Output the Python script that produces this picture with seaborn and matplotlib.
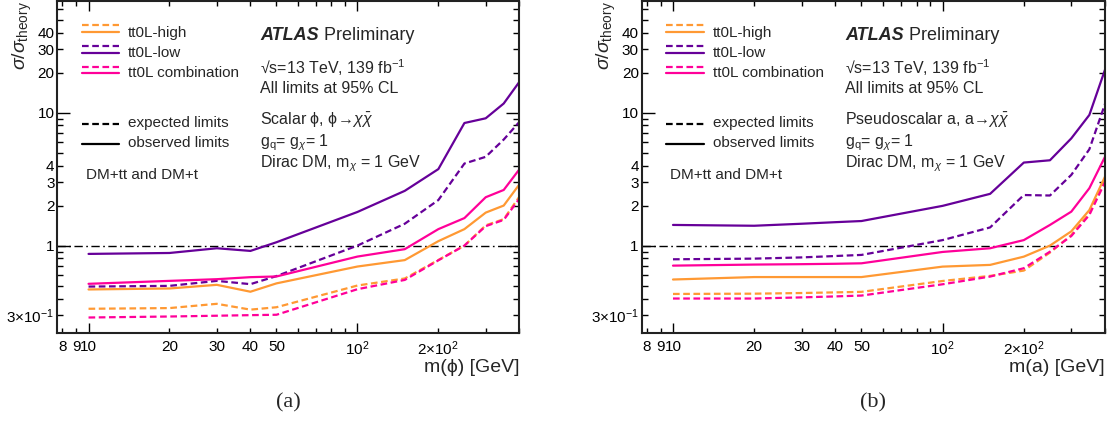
import matplotlib
matplotlib.use("Agg")
import matplotlib.pyplot as plt
from matplotlib.ticker import FixedLocator, FixedFormatter
import seaborn as sns
import pandas as pd

# ---------------- data ----------------
mass = [10, 20, 30, 40, 50, 100, 150, 200, 250, 300, 350, 400]

# (a) scalar phi
high_obs_a = [0.468, 0.476, 0.507, 0.450, 0.520, 0.696, 0.778, 1.08, 1.33, 1.77, 2.00, 2.88]
high_exp_a = [0.335, 0.339, 0.365, 0.330, 0.344, 0.501, 0.566, 0.78, 1.00, 1.42, 1.58, 2.33]
low_obs_a = [0.866, 0.880, 0.955, 0.912, 1.06, 1.79, 2.58, 3.76, 8.35, 9.06, 11.7, 17.0]
low_exp_a = [0.492, 0.498, 0.543, 0.513, 0.590, 1.00, 1.46, 2.20, 4.14, 4.65, 6.27, 8.5]
comb_obs_a = [0.516, 0.543, 0.559, 0.579, 0.586, 0.827, 0.940, 1.33, 1.61, 2.31, 2.62, 3.74]
comb_exp_a = [0.288, 0.293, 0.297, 0.300, 0.302, 0.470, 0.552, 0.775, 1.00, 1.40, 1.56, 2.25]

# (b) pseudoscalar a
high_obs_b = [0.556, 0.580, 0.580, 0.580, 0.580, 0.695, 0.716, 0.826, 1.00, 1.28, 1.85, 3.30]
high_exp_b = [0.433, 0.435, 0.440, 0.445, 0.449, 0.542, 0.592, 0.649, 0.886, 1.20, 1.75, 3.10]
low_obs_b = [1.43, 1.41, 1.46, 1.50, 1.53, 1.99, 2.45, 4.21, 4.38, 6.40, 9.6, 21.0]
low_exp_b = [0.789, 0.798, 0.815, 0.835, 0.851, 1.10, 1.37, 2.40, 2.38, 3.40, 5.3, 11.6]
comb_obs_b = [0.707, 0.720, 0.725, 0.730, 0.736, 0.896, 0.955, 1.10, 1.43, 1.80, 2.70, 4.65]
comb_exp_b = [0.400, 0.400, 0.408, 0.415, 0.421, 0.512, 0.585, 0.676, 0.900, 1.18, 1.70, 3.00]

channels = ["tt0L-high", "tt0L-low", "tt0L combination"]
colors = {"tt0L-high": "#ff9933", "tt0L-low": "#660099", "tt0L combination": "#ff0099"}

x_major = [10, 100]
x_major_labels = ["10", r"$10^{2}$"]
x_minor = [8, 9, 20, 30, 40, 50, 60, 70, 80, 90, 200, 300, 400]
x_minor_labels = ["8", "9", "20", "30", "40", "50", "", "", "", "", r"$2{\times}10^{2}$", "", ""]
y_major = [1, 10]
y_major_labels = ["1", "10"]
y_minor = [0.3, 0.4, 0.5, 0.6, 0.7, 0.8, 0.9, 2, 3, 4, 5, 6, 7, 8, 9, 20, 30, 40, 50, 60]
y_minor_labels = [r"$3{\times}10^{-1}$", "", "", "", "", "", "", "2", "3", "4", "", "", "", "", "",
                  "20", "30", "40", "", ""]

panels = [
    dict(obs=[high_obs_a, low_obs_a, comb_obs_a], exp=[high_exp_a, low_exp_a, comb_exp_a],
         xlabel="m(ϕ) [GeV]", model=r"Scalar ϕ, ϕ$\!\rightarrow\!\chi\bar{\chi}$",
         tag="(a)"),
    dict(obs=[high_obs_b, low_obs_b, comb_obs_b], exp=[high_exp_b, low_exp_b, comb_exp_b],
         xlabel="m(a) [GeV]", model=r"Pseudoscalar a, a$\!\rightarrow\!\chi\bar{\chi}$",
         tag="(b)"),
]

# ---------------- style ----------------
sns.set_theme(style="ticks")
plt.rcParams["font.family"] = ["Liberation Sans", "DejaVu Sans"]
plt.rcParams["mathtext.fontset"] = "custom"
plt.rcParams["mathtext.rm"] = "Liberation Sans"
plt.rcParams["mathtext.it"] = "Liberation Sans:italic"
plt.rcParams["mathtext.bf"] = "Liberation Sans:bold"
plt.rcParams["axes.linewidth"] = 1.5

fig = plt.figure(figsize=(11.12, 4.23), dpi=100)
axes = [fig.add_axes([0.0515, 0.2120, 0.4155, 0.7856]),
        fig.add_axes([0.5770, 0.2120, 0.4167, 0.7856])]

for ax, p in zip(axes, panels):
    rows = []
    for ch, ob, ex in zip(channels, p["obs"], p["exp"]):
        for m, v in zip(mass, ob):
            rows.append((m, v, ch, "observed"))
        for m, v in zip(mass, ex):
            rows.append((m, v, ch, "expected"))
    df = pd.DataFrame(rows, columns=["mass", "limit", "channel", "kind"])
    sns.lineplot(data=df, x="mass", y="limit", hue="channel", style="kind",
                 palette=colors, dashes={"observed": "", "expected": (3, 1.6)},
                 hue_order=channels, style_order=["observed", "expected"],
                 estimator=None, sort=False, legend=False, linewidth=1.6, ax=ax)
    ax.axhline(1.0, color="black", lw=1.0, ls=(0, (6, 2.5, 1.2, 2.5)), zorder=1)

    ax.set_xscale("log")
    ax.set_yscale("log")
    ax.set_xlim(7.65, 400)
    ax.set_ylim(0.219, 69)
    ax.xaxis.set_major_locator(FixedLocator(x_major))
    ax.xaxis.set_major_formatter(FixedFormatter(x_major_labels))
    ax.xaxis.set_minor_locator(FixedLocator(x_minor))
    ax.xaxis.set_minor_formatter(FixedFormatter(x_minor_labels))
    ax.yaxis.set_major_locator(FixedLocator(y_major))
    ax.yaxis.set_major_formatter(FixedFormatter(y_major_labels))
    ax.yaxis.set_minor_locator(FixedLocator(y_minor))
    ax.yaxis.set_minor_formatter(FixedFormatter(y_minor_labels))
    ax.tick_params(axis="both", which="both", direction="in", top=True, right=True,
                   labelsize=11, colors="black", width=1.0)
    ax.tick_params(axis="x", which="major", length=7.5, pad=4.5)
    ax.tick_params(axis="x", which="minor", length=3.8, pad=4.5)
    ax.tick_params(axis="y", which="major", length=9.5, pad=2)
    ax.tick_params(axis="y", which="minor", length=4.5, pad=2)
    for s in ax.spines.values():
        s.set_color("#222222")
    ax.set_xlabel("")
    ax.set_ylabel("")

    ax.text(1.0, -0.104, p["xlabel"], transform=ax.transAxes, ha="right", va="center",
            fontsize=14)
    ax.text(-0.076, 1.0, r"$\sigma/\sigma_{\rm theory}$", transform=ax.transAxes,
            rotation=90, rotation_mode="anchor", ha="right", va="center", fontsize=14)

    # legend drawn by hand
    tr = ax.transAxes
    x0, x1, xt = 0.053, 0.134, 0.153
    for ch, yd, ys, yt in zip(channels, [0.928, 0.865, 0.802], [0.907, 0.843, 0.784],
                              [0.905, 0.844, 0.784]):
        ax.plot([x0, x1], [yd, yd], transform=tr, color=colors[ch], lw=1.6,
                ls=(0, (3, 1.6)))
        ax.plot([x0, x1], [ys, ys], transform=tr, color=colors[ch], lw=1.6)
        ax.text(xt, yt, ch, transform=tr, ha="left", va="center", fontsize=11)
    ax.plot([x0, x1], [0.630, 0.630], transform=tr, color="black", lw=1.6,
            ls=(0, (3, 1.6)))
    ax.text(xt, 0.632, "expected limits", transform=tr, ha="left", va="center", fontsize=11)
    ax.plot([x0, x1], [0.570, 0.570], transform=tr, color="black", lw=1.6)
    ax.text(xt, 0.572, "observed limits", transform=tr, ha="left", va="center", fontsize=11)
    ax.text(0.062, 0.476, "DM+tt and DM+t", transform=tr, ha="left", va="center", fontsize=11)

    xa = 0.439
    atl = ax.text(xa, 0.896, "ATLAS", transform=tr, ha="left", va="center", fontsize=13,
                  fontweight="bold", fontstyle="italic")
    ax.annotate(" Preliminary", xy=(1, 0), xycoords=atl, ha="left", va="bottom",
                fontsize=13)
    ax.text(xa, 0.798, "√s=13 TeV, 139 fb$^{-1}$", transform=tr, ha="left", va="center",
            fontsize=11.5)
    ax.text(xa, 0.738, "All limits at 95% CL", transform=tr, ha="left", va="center",
            fontsize=11.5)
    ax.text(xa, 0.642, p["model"], transform=tr, ha="left", va="center", fontsize=11.5)
    ax.text(xa, 0.575, r"g$_{\rm q}$= g$_{\chi}$= 1", transform=tr, ha="left", va="center",
            fontsize=11.5)
    ax.text(xa, 0.51, r"Dirac DM, m$_{\chi}$ = 1 GeV", transform=tr, ha="left", va="center",
            fontsize=11.5)

    bb = ax.get_position()
    fig.text((bb.x0 + bb.x1) / 2, 0.047, p["tag"], ha="center", va="center",
             fontsize=16, family=["Liberation Serif", "DejaVu Serif"])

fig.savefig("out.png", dpi=100)
